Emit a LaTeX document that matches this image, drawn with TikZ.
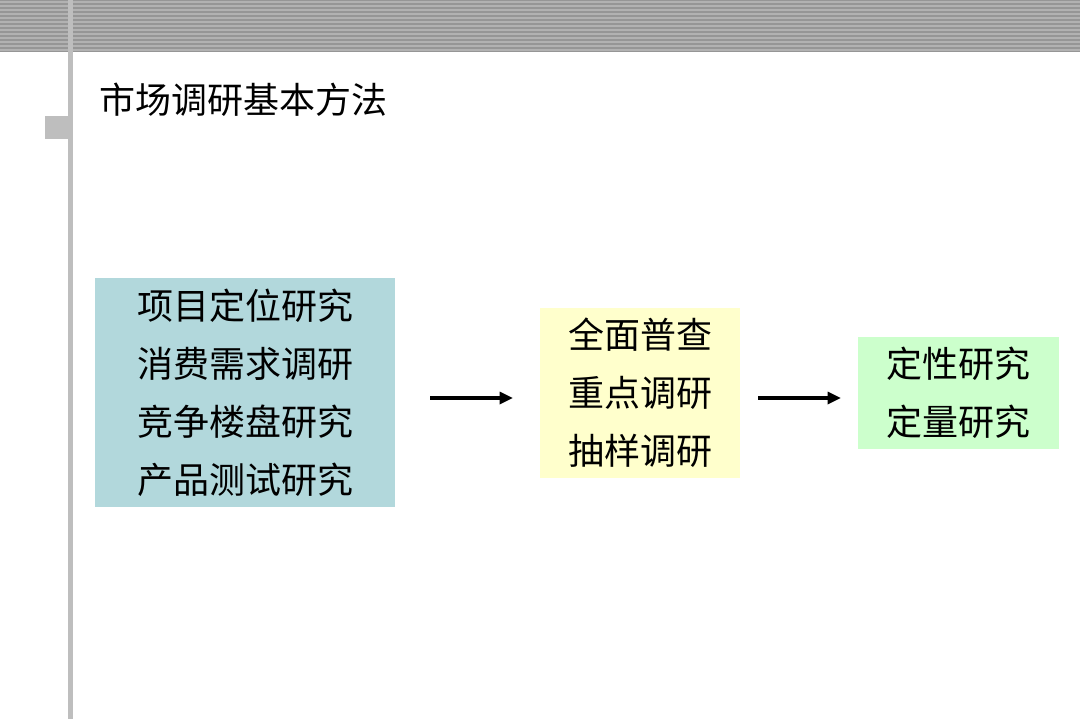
\documentclass[tikz,border=0pt]{standalone}
\usepackage{fontspec}
\setmainfont{Noto Sans CJK SC}
\usetikzlibrary{positioning, arrows.meta, calc}
\definecolor{tealbox}{RGB}{178,216,220}
\definecolor{yellowbox}{RGB}{255,255,204}
\definecolor{greenbox}{RGB}{204,255,204}
\definecolor{bandgray}{RGB}{150,150,150}
\definecolor{stripegray}{RGB}{178,178,178}
\definecolor{railgray}{RGB}{190,190,190}

\begin{document}
\begin{tikzpicture}[
    x=0.75pt, y=-0.75pt,
    method/.style={rectangle, draw=none, inner sep=0pt, align=center, font=\fontsize{27}{43.5}\selectfont,
        execute at begin node={\rule{0pt}{38pt}}},
    arrow/.style={-{Triangle[length=10pt, width=9pt]}, line width=2.4pt, draw=black}
]
\useasboundingbox (0,0) rectangle (1080,719);

% Header band and left rail
\fill[bandgray] (0,0) rectangle (1080,52);
\foreach \y in {2,6,...,50}
    \draw[stripegray, line width=1pt] (0,\y) -- (1080,\y);
\fill[railgray] (68,0) rectangle (73,719);
\fill[railgray] (45,116) rectangle (68,139);

% Title
\node[anchor=west, font=\fontsize{27}{30}\selectfont, inner sep=0pt] (title) at (99,100) {市场调研基本方法};

% Method boxes
\node[method, fill=tealbox, minimum width=300*0.75pt, minimum height=229*0.75pt] (topics) at (245,392.5)
    {项目定位研究\\消费需求调研\\竞争楼盘研究\\产品测试研究};
\node[method, fill=yellowbox, minimum width=200*0.75pt, minimum height=170*0.75pt] (surveys) at (640,393)
    {全面普查\\重点调研\\抽样调研};
\node[method, fill=greenbox, minimum width=201*0.75pt, minimum height=112*0.75pt] (analysis) at (958.5,393)
    {定性研究\\定量研究};

% Flow
\coordinate (a1) at (430,398);
\coordinate (a2) at (513,398);
\coordinate (b1) at (758,398);
\coordinate (b2) at (841,398);
\draw[arrow] (a1) -- (a2);
\draw[arrow] (b1) -- (b2);

\end{tikzpicture}
\end{document}
